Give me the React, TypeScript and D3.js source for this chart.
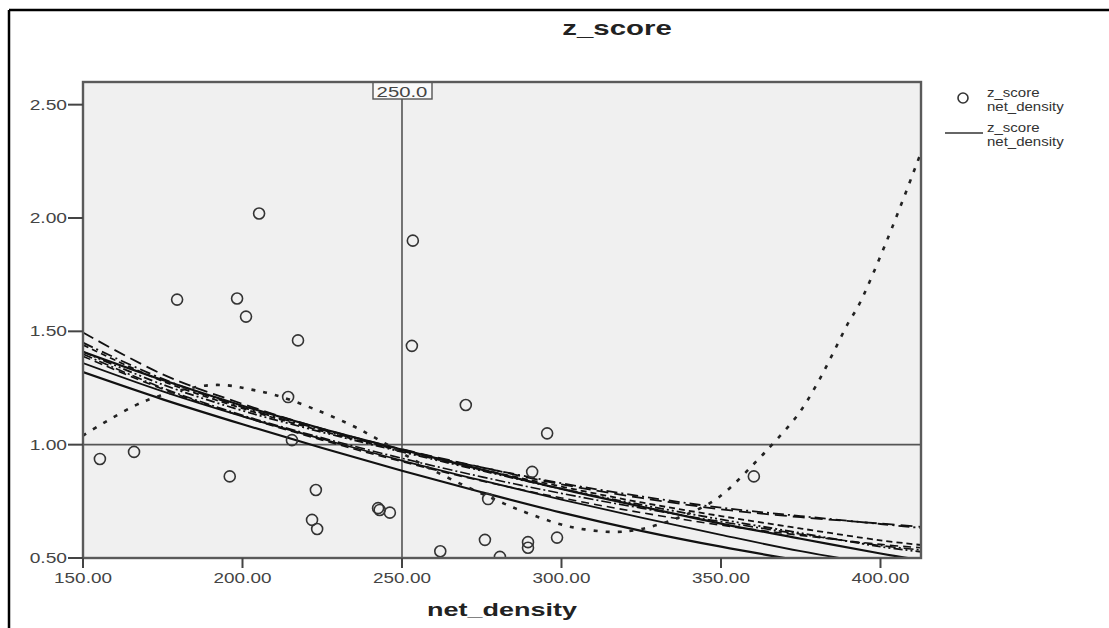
import React from 'react';
import * as d3 from 'd3';

// scatter: net_density vs z_score
const netDensity = [155.3, 166.0, 179.5, 198.3, 201.1, 196.0, 205.2, 217.4, 214.3, 215.5, 223.0, 221.8, 223.4, 242.5, 243.0, 246.2, 253.4, 253.1, 270.0, 295.5, 290.8, 277.0, 276.0, 262.0, 289.5, 289.5, 298.6, 280.7, 360.3];
const zScore = [0.937, 0.968, 1.64, 1.645, 1.565, 0.86, 2.02, 1.46, 1.21, 1.02, 0.8, 0.668, 0.628, 0.72, 0.712, 0.7, 1.9, 1.436, 1.175, 1.05, 0.88, 0.76, 0.58, 0.53, 0.57, 0.545, 0.59, 0.505, 0.86];

// fitted curves, sampled at these x positions
const fitX = [150, 175, 200, 225, 250, 275, 300, 325, 350, 375, 400, 413];
const fitLongDash = [1.495, 1.31, 1.18, 1.07, 0.98, 0.9, 0.825, 0.765, 0.715, 0.68, 0.652, 0.637];
const fitDashDot = [1.45, 1.29, 1.165, 1.065, 0.975, 0.9, 0.83, 0.772, 0.722, 0.685, 0.65, 0.632];
const fitShortDash = [1.44, 1.28, 1.16, 1.06, 0.972, 0.89, 0.815, 0.745, 0.685, 0.63, 0.578, 0.557];
const fitDashDotDot = [1.41, 1.265, 1.15, 1.055, 0.968, 0.885, 0.805, 0.735, 0.67, 0.61, 0.55, 0.527];
const fitSolidUpper = [1.41, 1.285, 1.172, 1.07, 0.978, 0.89, 0.805, 0.727, 0.652, 0.585, 0.52, 0.49];
const fitSolidMid = [1.36, 1.235, 1.125, 1.025, 0.93, 0.842, 0.758, 0.678, 0.602, 0.53, 0.47, 0.44];
const fitSolidLower = [1.32, 1.2, 1.09, 0.985, 0.885, 0.79, 0.7, 0.62, 0.55, 0.488, 0.43, 0.4];
const fitDashLower = [1.39, 1.245, 1.125, 1.02, 0.925, 0.84, 0.765, 0.7, 0.645, 0.6, 0.56, 0.545];
const fitDashDotLower = [1.4, 1.25, 1.13, 1.03, 0.94, 0.858, 0.785, 0.72, 0.66, 0.605, 0.555, 0.535];

// cubic fit (dotted)
const cubicX = [150, 169, 187, 195, 202, 210, 222, 235, 241, 260, 282, 289, 302, 316, 325, 337, 349, 362, 366, 374, 380, 385, 390, 393, 402, 413];
const cubicY = [1.04, 1.19, 1.258, 1.262, 1.245, 1.22, 1.16, 1.08, 1.035, 0.885, 0.74, 0.7, 0.64, 0.615, 0.628, 0.68, 0.765, 0.94, 1.0, 1.13, 1.265, 1.4, 1.54, 1.61, 1.9, 2.3];

const xTicks = [150, 200, 250, 300, 350, 400];
const yTicks = [0.5, 1.0, 1.5, 2.0, 2.5];
const legendLabels = ['z_score', 'net_density'];

const FONT = '"Liberation Sans", Arial, sans-serif';

function SText(props: any) {
  const { x, y, sx = 1.35, anchor = 'start', size = 14, weight = 'normal', fill = '#444', children } = props;
  return (
    <text
      transform={`translate(${x},${y}) scale(${sx},1)`}
      textAnchor={anchor}
      fontSize={size}
      fontWeight={weight}
      fontFamily={FONT}
      fill={fill}
    >
      {children}
    </text>
  );
}

export default function App() {
  const W = 1109;
  const H = 628;
  const left = 83, right = 921, top = 82, bottom = 558;

  const x = d3.scaleLinear().domain([150, 412.7]).range([left, right]);
  const y = d3.scaleLinear().domain([0.5, 2.6]).range([bottom, top]);

  const line = d3
    .line<[number, number]>()
    .x(d => x(d[0]))
    .y(d => y(d[1]))
    .curve(d3.curveCatmullRom);

  const fits = [
    { vals: fitLongDash, dash: '12,6', w: 1.8 },
    { vals: fitDashDot, dash: '11,4,2,4', w: 1.8 },
    { vals: fitShortDash, dash: '6,4', w: 1.8 },
    { vals: fitDashDotDot, dash: '9,3,2,3,2,3', w: 1.8 },
    { vals: fitDashLower, dash: '8,5', w: 1.6 },
    { vals: fitDashDotLower, dash: '10,3,2,3', w: 1.6 },
    { vals: fitSolidUpper, dash: null, w: 2.2 },
    { vals: fitSolidMid, dash: null, w: 1.8 },
    { vals: fitSolidLower, dash: null, w: 2.2 },
  ];

  const xRef = 250;
  const yRef = 1.0;

  return (
    <svg width={W} height={H} style={{ position: 'absolute', left: 0, top: 0, background: '#fff' }}>
      <defs>
        <clipPath id="plotClip">
          <rect x={left} y={top} width={right - left} height={bottom - top} />
        </clipPath>
      </defs>

      {/* outer frame */}
      <line x1={9} y1={10} x2={W} y2={10} stroke="#000" strokeWidth={2.5} />
      <line x1={9} y1={10} x2={9} y2={H} stroke="#000" strokeWidth={2.5} />

      <SText x={617} y={35} anchor="middle" size={21} weight="bold" sx={1.4} fill="#222">z_score</SText>

      {/* plot area */}
      <rect x={left} y={top} width={right - left} height={bottom - top} fill="#f0f0f0" />

      {/* reference lines */}
      <line x1={x(xRef)} x2={x(xRef)} y1={top + 16} y2={bottom} stroke="#555" strokeWidth={1.6} />
      <line x1={left} x2={right} y1={y(yRef)} y2={y(yRef)} stroke="#555" strokeWidth={1.6} />

      <g clipPath="url(#plotClip)">
        {fits.map((f, i) => (
          <path
            key={i}
            d={line(fitX.map((v, j) => [v, f.vals[j]] as [number, number])) || ''}
            fill="none"
            stroke="#111"
            strokeWidth={f.w}
            strokeDasharray={f.dash || undefined}
          />
        ))}
        <path
          d={line(cubicX.map((v, j) => [v, cubicY[j]] as [number, number])) || ''}
          fill="none"
          stroke="#222"
          strokeWidth={2.6}
          strokeDasharray="4,8"
        />
        {netDensity.map((v, i) => (
          <circle key={i} cx={x(v)} cy={y(zScore[i])} r={5.5} fill="none" stroke="#333" strokeWidth={1.6} />
        ))}
      </g>

      {/* reference label */}
      <rect x={373} y={82} width={59} height={17} fill="#fafafa" stroke="#555" strokeWidth={1.4} />
      <SText x={x(xRef)} y={97} anchor="middle" size={14} sx={1.45} fill="#444">250.0</SText>

      {/* plot border */}
      <rect x={left} y={top} width={right - left} height={bottom - top} fill="none" stroke="#5a5a5a" strokeWidth={2.4} />

      {/* y axis */}
      {yTicks.map(t => (
        <g key={t}>
          <line x1={left - 15} x2={left} y1={y(t)} y2={y(t)} stroke="#444" strokeWidth={2} />
          <SText x={left - 16} y={y(t) + 5} anchor="end" size={14} sx={1.37}>{t.toFixed(2)}</SText>
        </g>
      ))}

      {/* x axis */}
      {xTicks.map(t => (
        <g key={t}>
          <line x1={x(t)} x2={x(t)} y1={bottom} y2={bottom + 10} stroke="#444" strokeWidth={2} />
          <SText x={x(t)} y={583} anchor="middle" size={14} sx={1.35}>{t.toFixed(2)}</SText>
        </g>
      ))}

      <SText x={(left + right) / 2} y={616} anchor="middle" size={18} weight="bold" sx={1.5} fill="#222">net_density</SText>

      {/* legend */}
      <circle cx={963} cy={98} r={5} fill="none" stroke="#333" strokeWidth={1.6} />
      <SText x={987} y={97} size={12.5} sx={1.2} fill="#333">{legendLabels[0]}</SText>
      <SText x={987} y={111} size={12.5} sx={1.2} fill="#333">{legendLabels[1]}</SText>
      <line x1={945} x2={983} y1={133} y2={133} stroke="#333" strokeWidth={1.6} />
      <SText x={987} y={132} size={12.5} sx={1.2} fill="#333">{legendLabels[0]}</SText>
      <SText x={987} y={146} size={12.5} sx={1.2} fill="#333">{legendLabels[1]}</SText>
    </svg>
  );
}
